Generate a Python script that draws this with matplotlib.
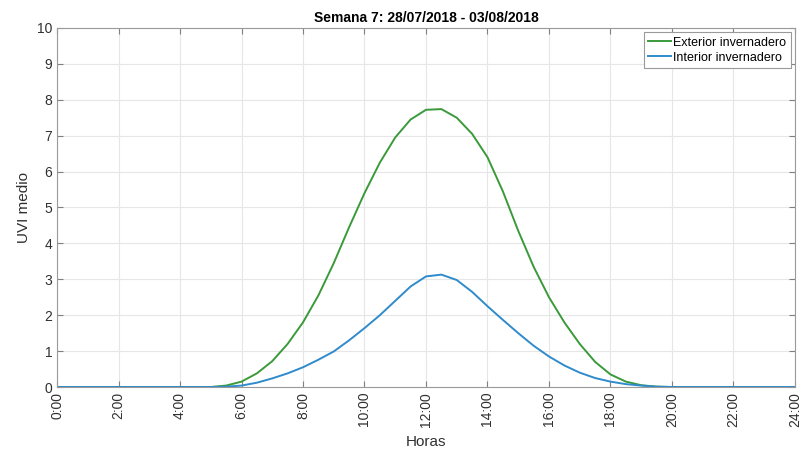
import matplotlib
matplotlib.use("Agg")
import matplotlib.pyplot as plt
import numpy as np

plt.rcParams['font.family'] = ['Liberation Sans', 'DejaVu Sans']

# horas (cada 30 min)
horas = np.arange(0, 24.01, 0.5)

exterior = [0, 0, 0, 0, 0, 0, 0, 0, 0, 0,          # 0:00 - 4:30
            0, 0.04, 0.15, 0.38, 0.72, 1.2, 1.8, 2.55, 3.45, 4.45,   # 5:00 - 9:30
            5.4, 6.25, 6.95, 7.45, 7.72, 7.74, 7.5, 7.05, 6.4, 5.45,  # 10:00 - 14:30
            4.35, 3.35, 2.5, 1.8, 1.2, 0.7, 0.35, 0.15, 0.05, 0.01,  # 15:00 - 19:30
            0, 0, 0, 0, 0, 0, 0, 0, 0]                   # 20:00 - 24:00

interior = [0, 0, 0, 0, 0, 0, 0, 0, 0, 0,
            0, 0.01, 0.04, 0.12, 0.24, 0.38, 0.55, 0.76, 0.99, 1.3,
            1.64, 2.0, 2.4, 2.8, 3.08, 3.13, 2.98, 2.65, 2.25, 1.87,
            1.5, 1.15, 0.85, 0.6, 0.4, 0.25, 0.15, 0.08, 0.04, 0.01,
            0, 0, 0, 0, 0, 0, 0, 0, 0]

tick_pos = np.arange(0, 25, 2)
tick_labels = [f"{h}:00" for h in tick_pos]

fig = plt.figure(figsize=(8.03, 4.58), dpi=100)
ax = fig.add_axes([0.071, 0.155, 0.919, 0.784])

ax.plot(horas, exterior, color='#3a9a3a', linewidth=1.4, label='Exterior invernadero')
ax.plot(horas, interior, color='#2f8bcb', linewidth=1.4, label='Interior invernadero')

ax.set_xlim(0, 24)
ax.set_ylim(0, 10)
ax.set_xticks(tick_pos)
ax.set_xticklabels(tick_labels, rotation=90, fontsize=10, color='#303030')
ax.set_yticks(range(0, 11))
ax.tick_params(axis='y', labelsize=10, labelcolor='#303030')
ax.tick_params(direction='in', top=True, right=True, length=4, color='#808080')
ax.grid(True, color='#e6e6e6', linewidth=0.8)
for s in ax.spines.values():
    s.set_color('#9a9a9a')

ax.set_title('Semana 7: 28/07/2018 - 03/08/2018', fontsize=10, fontweight='bold', pad=4)
ax.set_xlabel('Horas', fontsize=11, color='#303030', labelpad=6)
ax.set_ylabel('UVI medio', fontsize=11, color='#303030')

leg = ax.legend(loc='upper right', fontsize=9, handlelength=1.8, handletextpad=0.2,
                borderpad=0.35, labelspacing=0.25, fancybox=False, framealpha=1,
                borderaxespad=0.35)
leg.get_frame().set_edgecolor('#9a9a9a')
leg.get_frame().set_linewidth(0.8)

fig.savefig('out.png', dpi=100)
